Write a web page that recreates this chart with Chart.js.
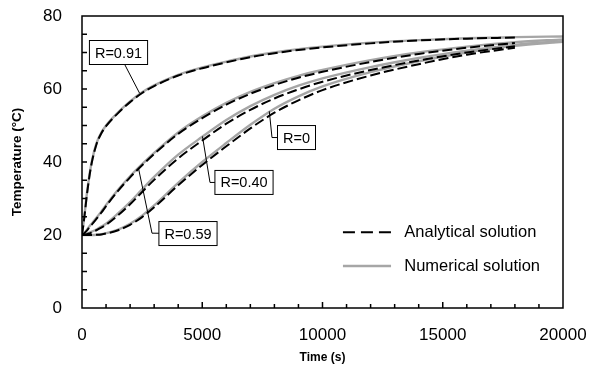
<!DOCTYPE html>
<html>
<head>
<meta charset="utf-8">
<script src="https://cdn.jsdelivr.net/npm/chart.js@4.4.1/dist/chart.umd.min.js"></script>
<style>
  html, body { margin: 0; padding: 0; background: #fff; }
  #wrap { width: 589px; height: 374px; }
</style>
</head>
<body>
<div id="wrap"><canvas id="chart"></canvas></div>
<script>
// time grid (s)
const time = [0, 100, 200, 300, 400, 600, 800, 1000, 1500, 2000, 2500, 3000, 4000, 5000,
  6000, 7000, 8000, 9000, 10000, 12000, 14000, 16000, 18000, 20000];

// numerical solution (grey), to 20000 s
const numR091 = [20, 25.3, 31.2, 36.0, 39.9, 45.1, 48.0, 50.0, 53.6, 56.6, 59.1, 61.0, 63.9, 65.9, 67.5, 68.9, 70.0, 70.9, 71.6, 72.7, 73.4, 73.9, 74.2, 74.4];
const numR059 = [20, 20.6, 21.4, 22.3, 23.1, 24.7, 26.4, 28.2, 32.4, 36.1, 39.4, 42.5, 48.1, 52.5, 56.2, 59.2, 61.6, 63.6, 65.2, 67.9, 70.0, 71.6, 72.8, 73.6];
const numR040 = [20, 20.1, 20.3, 20.6, 20.9, 21.5, 22.3, 23.1, 25.9, 29.0, 32.5, 35.9, 42.0, 46.9, 51.5, 55.3, 58.4, 60.9, 62.9, 66.0, 68.5, 70.5, 72.1, 73.1];
const numR0   = [20, 20, 20, 20, 20, 20.05, 20.2, 20.5, 21.5, 23.1, 25.3, 28.1, 34.3, 40.0, 45.2, 50.2, 54.6, 58.0, 60.7, 64.6, 67.6, 70.0, 71.8, 72.9];

// analytical solution (black dashed), to 18000 s
const anaR091 = [20, 25.0, 30.8, 35.7, 39.6, 44.8, 47.8, 49.8, 53.4, 56.4, 58.9, 60.8, 63.7, 65.7, 67.3, 68.7, 69.8, 70.7, 71.4, 72.5, 73.3, 73.8, 74.1];
const anaR059 = [20, 20.5, 21.2, 22.0, 22.8, 24.4, 26.1, 27.9, 32.1, 35.8, 39.1, 42.2, 47.7, 52.0, 55.7, 58.7, 61.1, 63.1, 64.7, 67.4, 69.6, 71.3, 72.6];
const anaR040 = [20, 20.05, 20.2, 20.4, 20.7, 21.3, 22.0, 22.8, 25.4, 28.4, 31.8, 35.1, 41.0, 45.9, 50.5, 54.3, 57.4, 59.9, 62.0, 65.2, 67.8, 70.0, 71.7];
const anaR0   = [20, 20, 20, 20, 20, 20.05, 20.15, 20.4, 21.3, 22.8, 24.9, 27.6, 33.6, 39.2, 44.3, 49.2, 53.5, 56.9, 59.7, 63.7, 66.8, 69.4, 71.3];

// callout labels: point on curve, elbow, box centre (data units)
const callouts = [
  { text: 'R=0.91', at: [2398, 58.8], via: null, box: [1518, 70.0] },
  { text: 'R=0.59', at: [2349, 38.3], via: [2911, 20.5], box: [4407, 20.4] },
  { text: 'R=0.40', at: [5010, 47.0], via: [5322, 34.4], box: [6736, 34.4] },
  { text: 'R=0',    at: [7788, 53.9], via: [7900, 46.7], box: [8919, 46.7] }
];

const FONT = "'Liberation Sans', Arial, sans-serif";
const GREY = '#a6a6a6';

function pts(arr) {
  return arr.map((v, i) => ({ x: time[i], y: v }));
}

const dashed = { borderColor: '#000', borderWidth: 2, borderDash: [10, 4], pointRadius: 0, fill: false, cubicInterpolationMode: 'monotone' };
const solid = { borderColor: GREY, borderWidth: 2.4, pointRadius: 0, fill: false, cubicInterpolationMode: 'monotone' };

// frame, inward ticks, callouts and legend
const extras = {
  id: 'extras',
  afterDraw(chart) {
    const ctx = chart.ctx;
    const a = chart.chartArea;
    const xs = chart.scales.x, ys = chart.scales.y;
    ctx.save();
    ctx.strokeStyle = '#000';
    ctx.lineWidth = 1.5;
    ctx.strokeRect(a.left, a.top, a.right - a.left, a.bottom - a.top);

    ctx.beginPath();
    for (let t = 1000; t < 20000; t += 1000) {
      const px = xs.getPixelForValue(t);
      const len = t % 5000 === 0 ? 6 : 4;
      ctx.moveTo(px, a.bottom);
      ctx.lineTo(px, a.bottom - len);
    }
    for (let v = 5; v < 80; v += 5) {
      const py = ys.getPixelForValue(v);
      ctx.moveTo(a.left, py);
      ctx.lineTo(a.left + 5, py);
    }
    ctx.stroke();

    // callouts
    ctx.lineWidth = 1;
    ctx.font = '14.5px ' + FONT;
    ctx.textAlign = 'center';
    ctx.textBaseline = 'middle';
    callouts.forEach(c => {
      const ax = xs.getPixelForValue(c.at[0]), ay = ys.getPixelForValue(c.at[1]);
      const bx = xs.getPixelForValue(c.box[0]), by = ys.getPixelForValue(c.box[1]);
      ctx.beginPath();
      ctx.moveTo(ax, ay);
      if (c.via) ctx.lineTo(xs.getPixelForValue(c.via[0]), ys.getPixelForValue(c.via[1]));
      ctx.lineTo(bx, by);
      ctx.stroke();
      const w = ctx.measureText(c.text).width + 11;
      const h = 24;
      ctx.fillStyle = '#fff';
      ctx.fillRect(bx - w / 2, by - h / 2, w, h);
      ctx.strokeRect(bx - w / 2, by - h / 2, w, h);
      ctx.fillStyle = '#000';
      ctx.fillText(c.text, bx, by + 1);
    });

    // legend
    const lx0 = xs.getPixelForValue(10850), lx1 = xs.getPixelForValue(12850);
    const tx = xs.getPixelForValue(13400);
    const rows = [
      { y: ys.getPixelForValue(20.75), text: 'Analytical solution', color: '#000', width: 2, dash: [12, 6] },
      { y: ys.getPixelForValue(11.5), text: 'Numerical solution', color: GREY, width: 2.4, dash: [] }
    ];
    ctx.font = '16.5px ' + FONT;
    ctx.textAlign = 'left';
    rows.forEach(r => {
      ctx.beginPath();
      ctx.strokeStyle = r.color;
      ctx.lineWidth = r.width;
      ctx.setLineDash(r.dash);
      ctx.moveTo(lx0, r.y);
      ctx.lineTo(lx1, r.y);
      ctx.stroke();
      ctx.setLineDash([]);
      ctx.fillStyle = '#000';
      ctx.fillText(r.text, tx, r.y);
    });
    ctx.restore();
  }
};

new Chart(document.getElementById('chart'), {
  type: 'line',
  data: {
    datasets: [
      Object.assign({ label: 'Analytical R=0.91', data: pts(anaR091) }, dashed),
      Object.assign({ label: 'Analytical R=0.59', data: pts(anaR059) }, dashed),
      Object.assign({ label: 'Analytical R=0.40', data: pts(anaR040) }, dashed),
      Object.assign({ label: 'Analytical R=0', data: pts(anaR0) }, dashed),
      Object.assign({ label: 'Numerical R=0.91', data: pts(numR091) }, solid),
      Object.assign({ label: 'Numerical R=0.59', data: pts(numR059) }, solid),
      Object.assign({ label: 'Numerical R=0.40', data: pts(numR040) }, solid),
      Object.assign({ label: 'Numerical R=0', data: pts(numR0) }, solid)
    ]
  },
  options: {
    responsive: true,
    maintainAspectRatio: false,
    animation: false,
    layout: { padding: { left: 0, right: 26, top: 16, bottom: 0 } },
    plugins: { legend: { display: false }, tooltip: { enabled: false } },
    scales: {
      x: {
        type: 'linear', min: 0, max: 20000,
        ticks: { stepSize: 5000, color: '#000', font: { size: 17, family: FONT }, padding: 17, maxRotation: 0,
          callback: v => String(v) },
        grid: { display: false, drawTicks: false },
        border: { display: false },
        title: { display: true, text: 'Time (s)', color: '#000', font: { size: 12, weight: 'bold', family: FONT }, padding: { top: 0, bottom: 9 } },
        afterFit(s) { s.height = 66; s.paddingLeft = 0; s.paddingRight = 0; }
      },
      y: {
        min: 0, max: 80,
        ticks: { stepSize: 20, color: '#000', font: { size: 17, family: FONT }, padding: 20 },
        grid: { display: false, drawTicks: false },
        border: { display: false },
        title: { display: true, text: 'Temperature (°C)', color: '#000', font: { size: 13.5, weight: 'bold', family: FONT }, padding: { top: 9, bottom: 0 } },
        afterFit(s) { s.width = 82; s.paddingTop = 0; s.paddingBottom = 0; }
      }
    }
  },
  plugins: [extras]
});
</script>
</body>
</html>
